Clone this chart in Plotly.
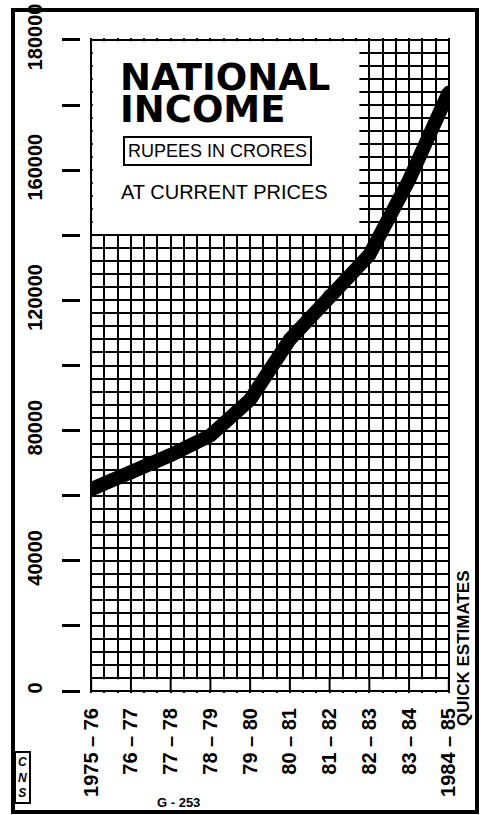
import plotly.graph_objects as go

# ---- data ----
years = ["1975 – 76", "76 – 77", "77 – 78", "78 – 79", "79 – 80",
         "80 – 81", "81 – 82", "82 – 83", "83 – 84", "1984 – 85"]
income = [62000, 67000, 72500, 78500, 89500, 108000, 121500, 134000, 157000, 184000]
ytick_vals = [0, 20000, 40000, 60000, 80000, 100000, 120000, 140000, 160000, 180000, 200000]
ytick_text = ["0", "", "40000", "", "80000", "", "120000", "", "160000", "", "180000"]

idx = list(range(len(years)))

# plot-area pixel geometry helpers (for decorations only)
L, R, T, B = 80, 450, 38, 693
W, H = R - L, B - T
def px(x):
    return (x - L) / W
def py(y):
    return (B - y) / H

SANS = "Liberation Sans, Arial, sans-serif"
HEAVY = "DejaVu Sans, sans-serif"

fig = go.Figure()

# bottom row: only year lines (redrawn over the white strip)
bx, by = [], []
for i in idx:
    bx += [i, i, None]
    by += [0, 4000, None]
fig.add_trace(go.Scatter(x=bx, y=by, mode="lines",
                         line=dict(color="black", width=2),
                         hoverinfo="skip", showlegend=False))

fig.add_trace(go.Scatter(x=idx, y=income, mode="lines+markers",
                         line=dict(color="black", width=14),
                         marker=dict(size=13, color="black"),
                         showlegend=False))

shapes = [
    dict(type="rect", xref="x", yref="y", x0=0.04, x1=len(years) - 1 - 0.04,
         y0=350, y1=3650, fillcolor="white", line=dict(width=0), layer="between"),
    dict(type="rect", xref="x", yref="y", x0=0.04, x1=6.75,
         y0=140400, y1=199600, fillcolor="white", line=dict(width=0), layer="between"),
    dict(type="rect", xref="paper", yref="paper", x0=px(13), x1=px(477),
         y0=py(812), y1=py(10), line=dict(color="black", width=4), layer="above"),
]

annotations = [
    dict(text="<b>NATIONAL</b>", x=px(118), y=py(77), xanchor="left", yanchor="middle",
         font=dict(family=HEAVY, size=37, color="black")),
    dict(text="<b>INCOME</b>", x=px(118), y=py(109), xanchor="left", yanchor="middle",
         font=dict(family=HEAVY, size=37, color="black")),
    dict(text="RUPEES IN CRORES", x=px(217), y=py(151), xanchor="center", yanchor="middle",
         font=dict(family=SANS, size=18, color="black"),
         bordercolor="black", borderwidth=2, borderpad=3),
    dict(text="AT CURRENT PRICES", x=px(224), y=py(192), xanchor="center", yanchor="middle",
         font=dict(family=SANS, size=20, color="black")),
    dict(text="<b>QUICK ESTIMATES</b>", x=px(463), y=py(648), xanchor="center", yanchor="middle",
         textangle=-90, font=dict(family=SANS, size=17, color="black")),
    dict(text="<b>G - 253</b>", x=px(178), y=py(802), xanchor="center", yanchor="middle",
         font=dict(family=SANS, size=13, color="black")),
    dict(text="<b><i>C<br>N<br>S</i></b>", x=px(22), y=py(777), xanchor="center", yanchor="middle",
         font=dict(family=SANS, size=12, color="black"),
         bordercolor="black", borderwidth=2, borderpad=2),
]
for a in annotations:
    a.update(xref="paper", yref="paper", showarrow=False)

fig.update_layout(
    width=481, height=815, autosize=False,
    margin=dict(l=L, r=481 - R, t=T, b=815 - B, autoexpand=False),
    paper_bgcolor="white", plot_bgcolor="white",
    shapes=shapes, annotations=annotations,
    showlegend=False,
    xaxis=dict(
        domain=[10 / W, 1], range=[-0.03, len(years) - 1 + 0.03],
        tickmode="array", tickvals=idx, ticktext=years, tickangle=-90,
        tickfont=dict(family=SANS, size=20, color="black", weight="bold"),
        ticks="", showgrid=True, gridcolor="black", gridwidth=2,
        minor=dict(tickmode="linear", tick0=0, dtick=1 / 3, showgrid=True,
                   gridcolor="black", gridwidth=2),
        zeroline=False, showline=False, ticklabelstandoff=10, automargin=False,
    ),
    yaxis=dict(
        anchor="free", position=0, range=[-600, 200600],
        tickmode="array", tickvals=ytick_vals, ticktext=ytick_text, tickangle=-90,
        tickfont=dict(family=SANS, size=20, color="black", weight="bold"),
        ticks="outside", ticklen=18, tickwidth=3, tickcolor="black",
        showgrid=True, gridcolor="black", gridwidth=2,
        minor=dict(tickmode="linear", tick0=0, dtick=4000, showgrid=True,
                   gridcolor="black", gridwidth=2),
        zeroline=False, showline=False, ticklabelstandoff=12, automargin=False,
    ),
)

fig.write_html("out.html", config={"displayModeBar": False},
               post_script="document.body.style.margin='0px';")
